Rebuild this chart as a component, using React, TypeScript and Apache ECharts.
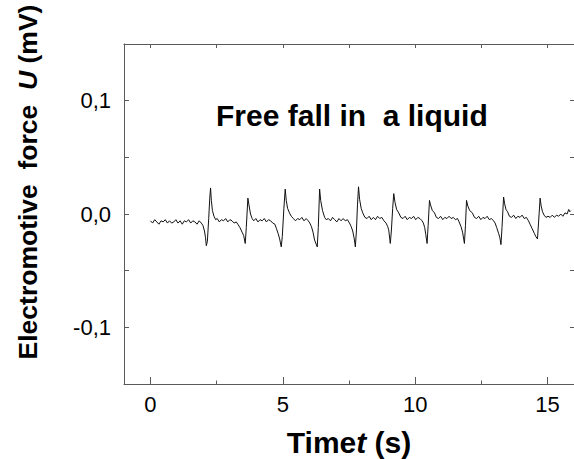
import React, { useEffect, useRef } from "react";
import * as echarts from "echarts";

// Axis ticks and labels
const xLabelValues = [0, 5, 10, 15];
const xMinorTickValues = [2.5, 7.5, 12.5];
const xTopTickValues = [0, 2.5, 5, 7.5, 10, 12.5, 15];
const yTickValues = [-0.1, -0.05, 0, 0.05, 0.1];
const yLabelValues = [-0.1, 0, 0.1];

// Signal U(t) [s, mV], segment by segment
const base0 = [
  [0, -0.006], [0.08, -0.008], [0.16, -0.005], [0.24, -0.007], [0.32, -0.009], [0.4, -0.006],
  [0.48, -0.007], [0.56, -0.005], [0.64, -0.008], [0.72, -0.006], [0.8, -0.008], [0.88, -0.007],
  [0.96, -0.005], [1.04, -0.008], [1.12, -0.006], [1.2, -0.009], [1.28, -0.006], [1.36, -0.007],
  [1.44, -0.005], [1.52, -0.008], [1.6, -0.006], [1.68, -0.007], [1.76, -0.009], [1.84, -0.006],
  [1.92, -0.008],
];
const pulse1 = [
  [1.98, -0.01], [2.04, -0.015], [2.08, -0.021], [2.11, -0.028], [2.15, -0.024], [2.2, -0.004],
  [2.24, 0.014], [2.27, 0.023], [2.3, 0.012], [2.34, 0.003], [2.4, -0.002], [2.46, -0.005],
];
const base1 = [
  [2.52, -0.004], [2.6, -0.007], [2.68, -0.005], [2.76, -0.006], [2.84, -0.004], [2.92, -0.007],
  [3.0, -0.005], [3.08, -0.006], [3.16, -0.008], [3.24, -0.007],
];
const pulse2 = [
  [3.3, -0.009], [3.38, -0.012], [3.46, -0.016], [3.52, -0.019], [3.58, -0.026], [3.62, -0.012],
  [3.68, 0.014], [3.72, 0.008], [3.78, 0.0], [3.84, -0.004],
];
const base2 = [
  [3.9, -0.006], [3.98, -0.004], [4.06, -0.007], [4.14, -0.005], [4.22, -0.006], [4.3, -0.004],
  [4.38, -0.007], [4.46, -0.005], [4.54, -0.006], [4.62, -0.008],
];
const pulse3 = [
  [4.7, -0.009], [4.76, -0.013], [4.82, -0.017], [4.88, -0.022], [4.94, -0.029], [4.98, -0.02],
  [5.04, 0.005], [5.09, 0.022], [5.13, 0.012], [5.18, 0.005], [5.25, 0.001], [5.32, -0.002],
  [5.4, -0.004],
];
const base3 = [
  [5.48, -0.006], [5.56, -0.004], [5.64, -0.005], [5.72, -0.003], [5.8, -0.006], [5.88, -0.004],
  [5.96, -0.006], [6.02, -0.008],
];
const pulse4 = [
  [6.08, -0.011], [6.14, -0.016], [6.2, -0.023], [6.3, -0.029], [6.34, -0.012], [6.39, 0.022],
  [6.43, 0.012], [6.5, 0.003], [6.58, -0.003], [6.64, -0.005],
];
const base4 = [
  [6.72, -0.004], [6.8, -0.006], [6.88, -0.003], [6.96, -0.005], [7.04, -0.007], [7.12, -0.004],
  [7.2, -0.006], [7.28, -0.004], [7.36, -0.006], [7.44, -0.005], [7.52, -0.008],
];
const pulse5 = [
  [7.58, -0.011], [7.64, -0.015], [7.7, -0.022], [7.74, -0.029], [7.78, -0.015], [7.82, 0.008],
  [7.86, 0.024], [7.9, 0.013], [7.96, 0.005], [8.02, 0.001], [8.1, -0.003],
];
const base5 = [
  [8.18, -0.004], [8.26, -0.002], [8.34, -0.005], [8.42, -0.003], [8.5, -0.005], [8.58, -0.002],
  [8.66, -0.004], [8.74, -0.003], [8.82, -0.006],
];
const pulse6 = [
  [8.9, -0.008], [8.96, -0.011], [9.0, -0.014], [9.06, -0.026], [9.1, -0.015], [9.15, 0.005],
  [9.19, 0.018], [9.24, 0.01], [9.3, 0.004], [9.38, 0.001], [9.46, -0.003],
];
const base6 = [
  [9.54, -0.004], [9.62, -0.002], [9.7, -0.005], [9.78, -0.003], [9.86, -0.004], [9.94, -0.002],
  [10.02, -0.005], [10.1, -0.003], [10.18, -0.004], [10.26, -0.006],
];
const pulse7 = [
  [10.31, -0.008], [10.36, -0.012], [10.4, -0.018], [10.45, -0.026], [10.49, -0.01], [10.54, 0.012],
  [10.58, 0.008], [10.65, 0.003], [10.73, 0.001], [10.8, -0.003],
];
const base7 = [
  [10.88, -0.004], [10.96, -0.002], [11.04, -0.005], [11.12, -0.003], [11.2, -0.004], [11.28, -0.002],
  [11.36, -0.004], [11.44, -0.003], [11.52, -0.005], [11.6, -0.004], [11.66, -0.007],
];
const pulse8 = [
  [11.73, -0.011], [11.79, -0.016], [11.86, -0.026], [11.9, -0.01], [11.94, 0.012], [11.99, 0.007],
  [12.06, 0.003], [12.16, 0.001], [12.24, -0.003],
];
const base8 = [
  [12.32, -0.004], [12.4, -0.002], [12.48, -0.005], [12.56, -0.003], [12.64, -0.004], [12.72, -0.002],
  [12.8, -0.005], [12.88, -0.004], [12.96, -0.006],
];
const pulse9 = [
  [13.02, -0.008], [13.08, -0.012], [13.15, -0.017], [13.2, -0.021], [13.24, -0.027], [13.28, -0.012],
  [13.34, 0.015], [13.38, 0.009], [13.43, 0.004], [13.49, 0.002], [13.56, -0.002],
];
const base9 = [
  [13.64, -0.003], [13.72, -0.001], [13.8, -0.004], [13.88, -0.002], [13.96, -0.003], [14.04, -0.001],
  [14.12, -0.004], [14.2, -0.003], [14.28, -0.006],
];
const pulse10 = [
  [14.34, -0.009], [14.42, -0.013], [14.5, -0.017], [14.56, -0.02], [14.62, -0.022], [14.66, -0.008],
  [14.72, 0.014], [14.76, 0.007], [14.81, 0.002], [14.87, -0.001], [14.94, -0.003],
];
const base10 = [
  [15.02, -0.002], [15.1, -0.003], [15.18, -0.001], [15.26, -0.003], [15.34, -0.001], [15.42, -0.002],
  [15.5, 0.0], [15.58, -0.002], [15.66, 0.001], [15.74, 0.0], [15.8, 0.004], [15.84, 0.002],
  [15.88, 0.003],
];

const signal = [
  ...base0, ...pulse1, ...base1, ...pulse2, ...base2, ...pulse3, ...base3, ...pulse4, ...base4,
  ...pulse5, ...base5, ...pulse6, ...base6, ...pulse7, ...base7, ...pulse8, ...base8, ...pulse9,
  ...base9, ...pulse10, ...base10,
];

const FONT = "'Liberation Sans', Arial, Helvetica, sans-serif";
const AXIS_COLOR = "#5a5a5a";

export default function App() {
  const ref = useRef<HTMLDivElement>(null);

  useEffect(() => {
    if (!ref.current) return;
    const chart = echarts.init(ref.current, null, { renderer: "svg" });
    const commonX = { type: "value", min: -1, max: 16, splitLine: { show: false } };
    const line = { show: true, onZero: false, lineStyle: { color: AXIS_COLOR, width: 1 } };
    chart.setOption({
      animation: false,
      backgroundColor: "#ffffff",
      grid: { left: 124, top: 44, width: 451, height: 340, containLabel: false },
      xAxis: [
        {
          ...commonX,
          position: "bottom",
          axisLine: line,
          axisTick: {
            show: true, inside: true, length: 7, customValues: xLabelValues,
            lineStyle: { color: AXIS_COLOR, width: 1 },
          },
          axisLabel: {
            show: true, customValues: xLabelValues, margin: 9, color: "#000",
            fontFamily: FONT, fontSize: 22,
            formatter: (v: number) => String(v),
          },
        },
        {
          ...commonX,
          position: "bottom",
          axisLine: { show: false, onZero: false },
          axisTick: {
            show: true, inside: true, length: 3.5, customValues: xMinorTickValues,
            lineStyle: { color: AXIS_COLOR, width: 1 },
          },
          axisLabel: { show: false },
        },
        {
          ...commonX,
          position: "top",
          axisLine: line,
          axisTick: {
            show: true, inside: true, length: 4, customValues: xTopTickValues,
            lineStyle: { color: AXIS_COLOR, width: 1 },
          },
          axisLabel: { show: false },
        },
      ],
      yAxis: [
        {
          type: "value", min: -0.15, max: 0.15, position: "left",
          splitLine: { show: false },
          axisLine: line,
          axisTick: {
            show: true, inside: true, length: 5, customValues: yTickValues,
            lineStyle: { color: AXIS_COLOR, width: 1 },
          },
          axisLabel: {
            show: true, customValues: yLabelValues, margin: 13, color: "#000",
            fontFamily: FONT, fontSize: 22,
            formatter: (v: number) => v.toFixed(1).replace(".", ","),
          },
        },
        {
          type: "value", min: -0.15, max: 0.15, position: "right",
          splitLine: { show: false },
          axisLine: line,
          axisTick: {
            show: true, inside: true, length: 4, customValues: yTickValues,
            lineStyle: { color: AXIS_COLOR, width: 1 },
          },
          axisLabel: { show: false },
        },
      ],
      series: [
        {
          type: "line",
          xAxisIndex: 0,
          yAxisIndex: 0,
          data: signal,
          showSymbol: false,
          symbol: "none",
          lineStyle: { color: "#111111", width: 1 },
        },
      ],
      graphic: [
        {
          type: "text",
          x: 216,
          y: 115,
          style: {
            text: "Free fall in  a liquid",
            fill: "#000",
            font: `bold 30px ${FONT}`,
            align: "left",
            verticalAlign: "middle",
          },
        },
        {
          type: "text",
          x: 349,
          y: 442,
          style: {
            text: "{a|Time}{b|t}{a| (s)}",
            align: "center",
            verticalAlign: "middle",
            rich: {
              a: { fontFamily: FONT, fontWeight: "bold", fontSize: 30, fill: "#000" },
              b: { fontFamily: FONT, fontWeight: "bold", fontStyle: "italic", fontSize: 30, fill: "#000" },
            },
          },
        },
        {
          type: "text",
          x: 28,
          y: 182,
          rotation: Math.PI / 2,
          style: {
            text: "{a|Electromotive  force  }{b|U}{a| (mV)}",
            align: "center",
            verticalAlign: "middle",
            rich: {
              a: { fontFamily: FONT, fontWeight: "bold", fontSize: 26.5, fill: "#000" },
              b: { fontFamily: FONT, fontWeight: "bold", fontStyle: "italic", fontSize: 26.5, fill: "#000" },
            },
          },
        },
      ],
    });
    return () => chart.dispose();
  }, []);

  return (
    <div
      ref={ref}
      style={{ position: "absolute", left: 0, top: 0, width: 574, height: 459, background: "#fff" }}
    />
  );
}
